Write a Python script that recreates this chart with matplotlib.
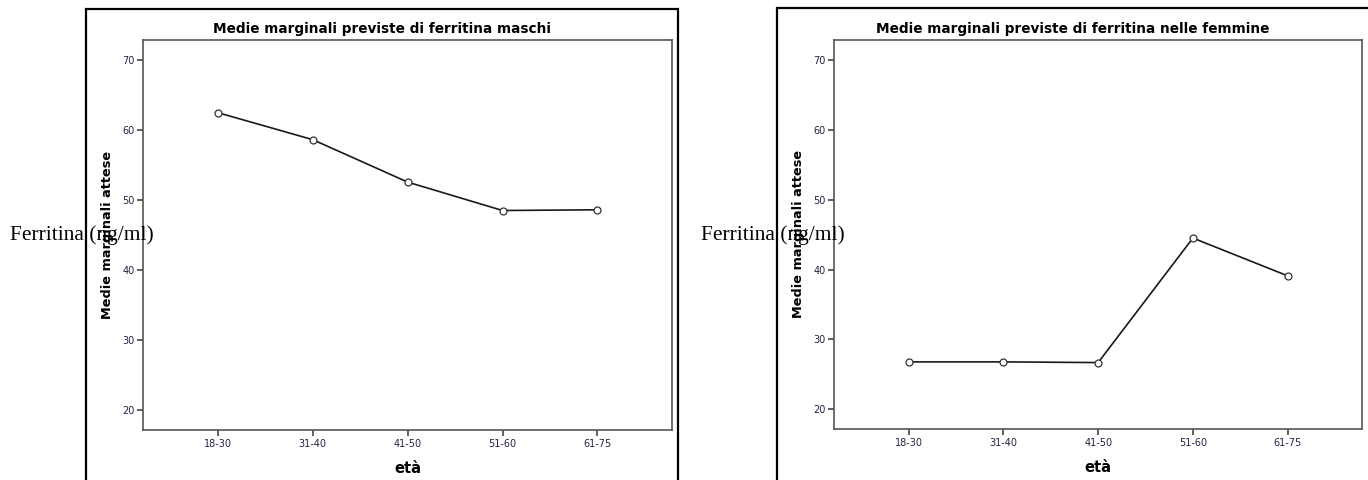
import numpy as np
import matplotlib
matplotlib.use("Agg")
import matplotlib.pyplot as plt
from matplotlib.patches import Rectangle

# age groups and estimated marginal means
age_groups = ["18-30", "31-40", "41-50", "51-60", "61-75"]
means_males = [62.45, 58.6, 52.55, 48.5, 48.6]
means_females = [26.8, 26.8, 26.7, 44.5, 39.1]
y_ticks = [20, 30, 40, 50, 60, 70]

title_males = "Medie marginali previste di ferritina maschi"
title_females = "Medie marginali previste di ferritina nelle femmine"
ylabel = "Medie marginali attese"
xlabel = "età"
side_text = "Ferritina (ng/ml)"

W, H = 1368, 480
fig = plt.figure(figsize=(W / 100, H / 100), dpi=100)


def px_box(x0, y0, x1, y1):
    # pixel box (top-left origin) -> figure fraction [left, bottom, width, height]
    return [x0 / W, 1 - y1 / H, (x1 - x0) / W, (y1 - y0) / H]


def draw_panel(box, frame_x0, frame_x1, frame_top, title, values, text_x):
    # outer black frame (runs off the bottom of the image)
    l, b, w, h = px_box(frame_x0, frame_top, frame_x1, H + 20)
    fig.patches.append(Rectangle((l, b), w, h, transform=fig.transFigure,
                                 fill=False, edgecolor="black", linewidth=1.6,
                                 zorder=0))
    ax = fig.add_axes(box)
    x = np.arange(len(age_groups))
    ax.plot(x, values, color="#1a1a1a", linewidth=1.2, marker="o",
            markersize=5, markerfacecolor="white", markeredgecolor="#333333",
            markeredgewidth=0.9, zorder=3)
    ax.set_xlim(-0.785, 4.785)
    ax.set_ylim(17.25, 72.85)
    ax.set_xticks(x)
    ax.set_xticklabels(age_groups)
    ax.set_yticks(y_ticks)
    ax.tick_params(axis="both", direction="out", length=4, width=1.2,
                   color="#444444", labelsize=7, labelcolor="#222244", pad=2)
    ax.tick_params(axis="x", pad=3)
    for s in ax.spines.values():
        s.set_color("#555555")
        s.set_linewidth(1.2)
    ax.set_xlabel(xlabel, fontsize=10.5, fontweight="bold", labelpad=8)
    ax.set_ylabel(ylabel, fontsize=9.3, fontweight="bold", labelpad=6)
    # title centred on the outer frame
    fig.text((frame_x0 + min(frame_x1, frame_x0 + 592)) / 2 / W, 1 - 29 / H,
             title, ha="center", va="center", fontsize=9.8, fontweight="bold")
    fig.text(text_x / W, 1 - 235 / H, side_text, ha="left", va="center",
             fontsize=15.4, family=["Liberation Serif", "DejaVu Serif"],
             zorder=5)
    return ax


draw_panel(px_box(143.3, 39.7, 672, 429.7), 86, 678, 9,
           title_males, means_males, 10)
draw_panel(px_box(834.3, 39.7, 1362, 428.7), 776.7, 1380, 8,
           title_females, means_females, 701)

plt.savefig("out.png", dpi=100)
